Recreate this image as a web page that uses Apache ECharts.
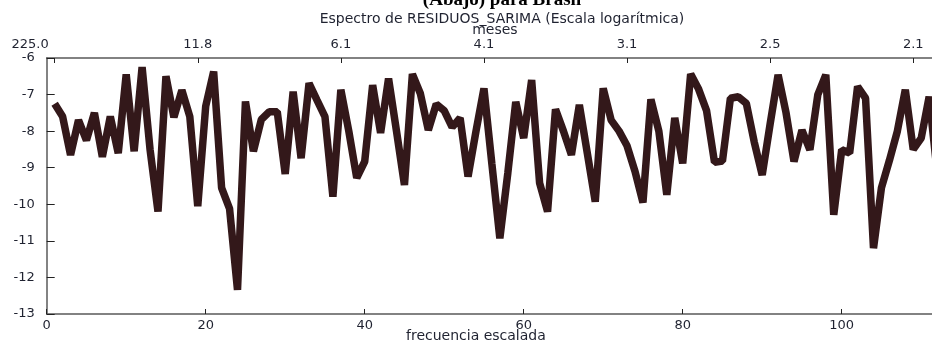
<!DOCTYPE html>
<html>
<head>
<meta charset="utf-8">
<script src="https://cdn.jsdelivr.net/npm/echarts@6/dist/echarts.min.js"></script>
<style>
  html, body { margin: 0; padding: 0; background: #ffffff; }
  #chart { width: 932px; height: 341px; }
</style>
</head>
<body>
<div id="chart"></div>
<script>
// Log periodogram of the SARIMA residuals, one value per scaled frequency j = 1..112
const frecuencia = Array.from({ length: 112 }, (_, i) => i + 1);
const logEspectro = [
  -7.25, -7.6, -8.65, -7.7, -8.25, -7.5, -8.7, -7.6, -8.6, -6.45,
  -8.55, -6.25, -8.5, -10.2, -6.5, -7.62, -6.88, -7.6, -10.05, -7.32,
  -6.37, -9.55, -10.12, -12.34, -7.19, -8.55, -7.68, -7.47, -7.47, -9.17,
  -6.92, -8.74, -6.69, -7.15, -7.6, -9.79, -6.87, -8.0, -9.28, -8.83,
  -6.74, -8.05, -6.56, -8.0, -9.47, -6.44, -6.97, -7.97, -7.26, -7.44,
  -7.89, -7.64, -9.24, -8.0, -6.83, -8.9, -10.93, -9.15, -7.2, -8.19,
  -6.6, -9.42, -10.2, -7.4, -8.0, -8.65, -7.28, -8.6, -9.93, -6.83,
  -7.7, -8.0, -8.4, -9.1, -9.95, -7.13, -8.0, -9.74, -7.64, -8.88,
  -6.44, -6.85, -7.44, -8.85, -8.82, -7.1, -7.06, -7.24, -8.3, -9.2,
  -7.8, -6.46, -7.5, -8.83, -7.97, -8.51, -7.0, -6.46, -10.29, -8.51,
  -8.6, -6.78, -7.1, -11.2, -9.55, -8.8, -8.0, -6.87, -8.5, -8.19,
  -7.06, -9.1
];

// Bottom axis ticks (scaled frequency)
const ticksFrecuencia = [0, 20, 40, 60, 80, 100];
// Top axis ticks: frequencies and the period in months they correspond to
const ticksMeses = [1, 19, 37, 55, 73, 91, 109];
const etiquetasMeses = ['225.0', '11.8', '6.1', '4.1', '3.1', '2.5', '2.1'];

const lineColor = '#33181a';
const axisColor = '#5a5a5a';
const textColor = '#1f2230';
const font = 'DejaVu Sans';

const chart = echarts.init(document.getElementById('chart'), null, { renderer: 'canvas' });

chart.setOption({
  animation: false,
  backgroundColor: '#ffffff',
  title: [
    {
      text: '(Abajo) para Brasil',
      left: 497, top: -14, textAlign: 'center',
      textStyle: { fontFamily: 'Liberation Serif', fontWeight: 'bold', fontSize: 19, color: '#000' }
    },
    {
      text: 'Espectro de RESIDUOS_SARIMA (Escala logarítmica)',
      left: 497, top: 7, textAlign: 'center',
      textStyle: { fontFamily: font, fontWeight: 'normal', fontSize: 14, color: textColor }
    }
  ],
  grid: { left: 46.7, right: -5.1, top: 58, bottom: 27, containLabel: false, outerBoundsMode: 'none' },
  xAxis: [
    {
      type: 'value', position: 'bottom', min: 0, max: 112,
      name: 'frecuencia escalada', nameLocation: 'middle', nameGap: 15, nameMoveOverlap: false,
      nameTextStyle: { fontFamily: font, fontSize: 14, color: textColor, padding: [0, 32, 0, 0] },
      axisLine: { show: true, lineStyle: { color: axisColor, width: 1.5 } },
      axisTick: { show: true, inside: true, length: 5, lineStyle: { color: '#222' }, customValues: ticksFrecuencia },
      axisLabel: { customValues: ticksFrecuencia, margin: 5, fontFamily: font, fontSize: 13, color: textColor },
      splitLine: { show: false }
    },
    {
      type: 'value', position: 'top', min: 0, max: 112,
      name: 'meses', nameLocation: 'middle', nameGap: 21, nameMoveOverlap: false,
      nameTextStyle: { fontFamily: font, fontSize: 14, color: textColor, padding: [0, 0, 0, 6] },
      axisLine: { show: true, lineStyle: { color: axisColor, width: 1.5 } },
      axisTick: { show: true, inside: true, length: 5, lineStyle: { color: '#222' }, customValues: ticksMeses },
      axisLabel: {
        customValues: ticksMeses, margin: 7, fontFamily: font, fontSize: 13, color: textColor,
        formatter: function (v) {
          const k = ticksMeses.indexOf(v);
          const s = k >= 0 ? etiquetasMeses[k] : '';
          return k === 0 ? '{first|' + s + '}' : s;
        },
        rich: { first: { fontFamily: font, fontSize: 13, color: textColor, padding: [0, 49, 0, 0] } }
      },
      splitLine: { show: false }
    }
  ],
  yAxis: {
    type: 'value', min: -13, max: -6, interval: 1,
    axisLine: { show: true, lineStyle: { color: axisColor, width: 1.5 } },
    axisTick: { show: true, inside: true, length: 8, lineStyle: { color: '#222' } },
    axisLabel: { margin: 12, fontFamily: font, fontSize: 13, color: textColor },
    splitLine: { show: false }
  },
  series: [
    {
      type: 'line',
      data: frecuencia.map((j, i) => [j, logEspectro[i]]),
      showSymbol: false,
      symbol: 'none',
      clip: true,
      lineStyle: { color: lineColor, width: 7.5, join: 'bevel', cap: 'butt' }
    }
  ]
});
</script>
</body>
</html>
